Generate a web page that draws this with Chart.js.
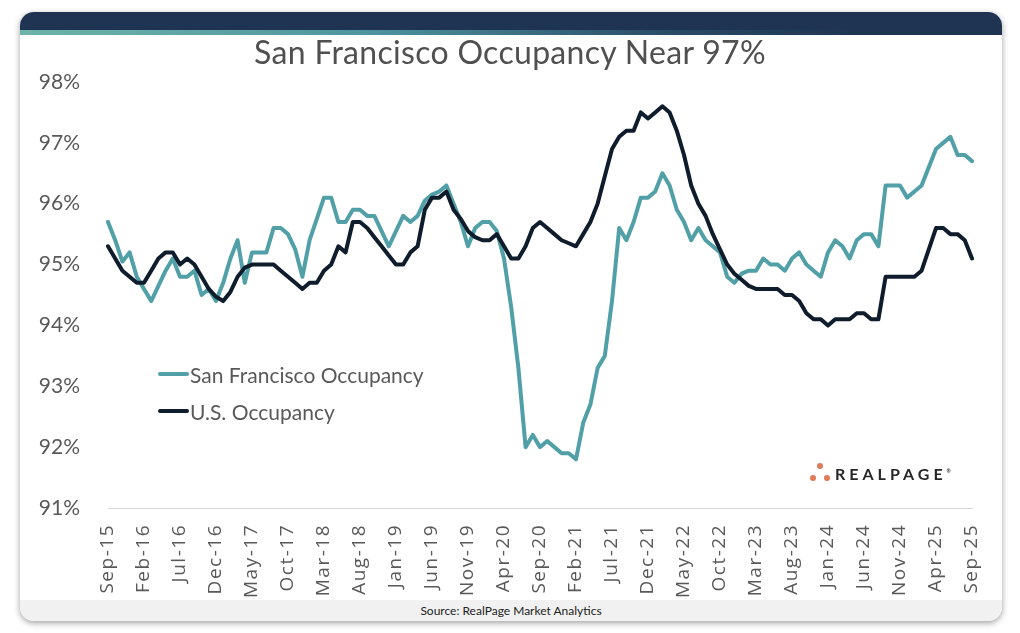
<!DOCTYPE html>
<html>
<head>
<meta charset="utf-8">
<script src="https://cdn.jsdelivr.net/npm/chart.js@4.4.1/dist/chart.umd.min.js"></script>
<style>
  html, body { margin: 0; padding: 0; }
  body { width: 1020px; height: 633px; background: #fff; position: relative; overflow: hidden; font-family: Lato, sans-serif; }
  .card { position: absolute; left: 20px; top: 12px; width: 982px; height: 609px; background: #fff;
          border-radius: 14px; box-shadow: 0 2px 6px rgba(0,0,0,0.38); overflow: hidden; }
  .band { height: 18px; background: #1e3452; }
  .stripe { height: 5px; background: linear-gradient(to right, #6db3a9 0%, #4f95a0 35%, #2a4d68 65%, #1e3452 85%); }
  .footer { position: absolute; left: 0; right: 0; bottom: 0; height: 21px; background: #f1f1f1;
            font: 12px Lato, sans-serif; color: #222; text-align: center; line-height: 21px; }
  .title { position: absolute; left: 0; width: 1020px; top: 32px; height: 42px; line-height: 42px;
           text-align: center; font: 32px Lato, sans-serif; color: #505050; z-index: 2; letter-spacing: 0.3px; }
  #chart { position: absolute; left: 0; top: 0; z-index: 1; }
  .legend { position: absolute; left: 158px; z-index: 2; display: flex; align-items: center; height: 24px;
            font: 21px Lato, sans-serif; color: #595959; }
  .legend span.ln { display: inline-block; width: 31px; height: 4px; border-radius: 2px; margin-right: 1px; }
  .logo { position: absolute; left: 809px; top: 461px; z-index: 2; height: 24px; }
  .logo .dot { position: absolute; width: 6px; height: 6px; border-radius: 50%; background: #e07b5a; }
  .logo .txt { position: absolute; left: 26px; top: 1px; font: bold 16px Lato, sans-serif; letter-spacing: 4px;
               color: #262626; white-space: nowrap; line-height: 24px; }
  .logo sup { font-size: 5px; letter-spacing: 0; vertical-align: top; position: relative; top: -3px; }
</style>
</head>
<body>
<div class="card">
  <div class="band"></div>
  <div class="stripe"></div>
  <div class="footer">Source: RealPage Market Analytics</div>
</div>
<div class="title">San Francisco Occupancy Near 97%</div>
<canvas id="chart" width="1020" height="600"></canvas>
<div class="legend" style="top:362px"><span class="ln" style="background:#519fa7"></span>San Francisco Occupancy</div>
<div class="legend" style="top:399px"><span class="ln" style="background:#0e1c2b"></span>U.S. Occupancy</div>
<div class="logo">
  <div class="dot" style="left:8px;top:2px"></div>
  <div class="dot" style="left:1px;top:14px"></div>
  <div class="dot" style="left:15px;top:14px"></div>
  <div class="txt">REALPAGE<sup>®</sup></div>
</div>
<script>
var months = [
  'Sep-15','Oct-15','Nov-15','Dec-15',
  'Jan-16','Feb-16','Mar-16','Apr-16','May-16','Jun-16','Jul-16','Aug-16','Sep-16','Oct-16','Nov-16','Dec-16',
  'Jan-17','Feb-17','Mar-17','Apr-17','May-17','Jun-17','Jul-17','Aug-17','Sep-17','Oct-17','Nov-17','Dec-17',
  'Jan-18','Feb-18','Mar-18','Apr-18','May-18','Jun-18','Jul-18','Aug-18','Sep-18','Oct-18','Nov-18','Dec-18',
  'Jan-19','Feb-19','Mar-19','Apr-19','May-19','Jun-19','Jul-19','Aug-19','Sep-19','Oct-19','Nov-19','Dec-19',
  'Jan-20','Feb-20','Mar-20','Apr-20','May-20','Jun-20','Jul-20','Aug-20','Sep-20','Oct-20','Nov-20','Dec-20',
  'Jan-21','Feb-21','Mar-21','Apr-21','May-21','Jun-21','Jul-21','Aug-21','Sep-21','Oct-21','Nov-21','Dec-21',
  'Jan-22','Feb-22','Mar-22','Apr-22','May-22','Jun-22','Jul-22','Aug-22','Sep-22','Oct-22','Nov-22','Dec-22',
  'Jan-23','Feb-23','Mar-23','Apr-23','May-23','Jun-23','Jul-23','Aug-23','Sep-23','Oct-23','Nov-23','Dec-23',
  'Jan-24','Feb-24','Mar-24','Apr-24','May-24','Jun-24','Jul-24','Aug-24','Sep-24','Oct-24','Nov-24','Dec-24',
  'Jan-25','Feb-25','Mar-25','Apr-25','May-25','Jun-25','Jul-25','Aug-25','Sep-25'
];

// San Francisco occupancy, %
var sfOcc = [
  95.7, 95.4, 95.05, 95.2,
  94.8, 94.6, 94.4, 94.65, 94.9, 95.1, 94.8, 94.8, 94.9, 94.5, 94.6, 94.4,
  94.7, 95.1, 95.4, 94.7, 95.2, 95.2, 95.2, 95.6, 95.6, 95.5, 95.25, 94.8,
  95.4, 95.75, 96.1, 96.1, 95.7, 95.7, 95.9, 95.9, 95.8, 95.8, 95.55, 95.3,
  95.55, 95.8, 95.7, 95.8, 96.05, 96.15, 96.2, 96.3, 96.0, 95.7, 95.3, 95.6,
  95.7, 95.7, 95.55, 95.1, 94.3, 93.3, 92.0, 92.2, 92.0, 92.1, 92.0, 91.9,
  91.9, 91.8, 92.4, 92.7, 93.3, 93.5, 94.4, 95.6, 95.4, 95.7, 96.1, 96.1,
  96.2, 96.5, 96.3, 95.9, 95.7, 95.4, 95.6, 95.4, 95.3, 95.2, 94.8, 94.7,
  94.85, 94.9, 94.9, 95.1, 95.0, 95.0, 94.9, 95.1, 95.2, 95.0, 94.9, 94.8,
  95.2, 95.4, 95.3, 95.1, 95.4, 95.5, 95.5, 95.3, 96.3, 96.3, 96.3, 96.1,
  96.2, 96.3, 96.6, 96.9, 97.0, 97.1, 96.8, 96.8, 96.7
];

// U.S. occupancy, %
var usOcc = [
  95.3, 95.1, 94.9, 94.8,
  94.7, 94.7, 94.9, 95.1, 95.2, 95.2, 95.0, 95.1, 95.0, 94.8, 94.6, 94.47,
  94.4, 94.55, 94.8, 94.95, 95.0, 95.0, 95.0, 95.0, 94.9, 94.8, 94.7, 94.6,
  94.7, 94.7, 94.9, 95.0, 95.3, 95.2, 95.7, 95.7, 95.6, 95.45, 95.3, 95.15,
  95.0, 95.0, 95.2, 95.3, 95.9, 96.1, 96.1, 96.2, 95.9, 95.75, 95.55, 95.45,
  95.4, 95.4, 95.5, 95.3, 95.1, 95.1, 95.3, 95.6, 95.7, 95.6, 95.5, 95.4,
  95.35, 95.3, 95.5, 95.7, 96.0, 96.45, 96.9, 97.1, 97.2, 97.2, 97.5, 97.4,
  97.5, 97.6, 97.5, 97.2, 96.8, 96.3, 96.0, 95.8, 95.5, 95.25, 95.0, 94.85,
  94.75, 94.65, 94.6, 94.6, 94.6, 94.6, 94.5, 94.5, 94.4, 94.2, 94.1, 94.1,
  94.0, 94.1, 94.1, 94.1, 94.2, 94.2, 94.1, 94.1, 94.8, 94.8, 94.8, 94.8,
  94.8, 94.9, 95.25, 95.6, 95.6, 95.5, 95.5, 95.4, 95.1
];

var yMin = 91, yMax = 98;
var tickEvery = 5;

// x labels in the original are slightly letter-spaced
var spacedLabels = {
  id: 'spacedLabels',
  beforeDraw: function(chart) {
    var xs = chart.scales.x;
    if (!xs || xs._spaced) return;
    var orig = xs.drawLabels;
    xs.drawLabels = function(area) {
      var c = this.ctx;
      c.save();
      c.letterSpacing = '1.5px';
      orig.call(this, area);
      c.restore();
    };
    xs._spaced = true;
  }
};

var ctx = document.getElementById('chart').getContext('2d');
var chart = new Chart(ctx, {
  type: 'line',
  data: {
    labels: months,
    datasets: [{
      label: 'San Francisco Occupancy',
      data: sfOcc,
      borderColor: '#519fa7',
      backgroundColor: 'transparent',
      borderWidth: 4,
      pointRadius: 0,
      tension: 0,
      borderJoinStyle: 'round',
      borderCapStyle: 'round',
      order: 1
    }, {
      label: 'U.S. Occupancy',
      data: usOcc,
      borderColor: '#0e1c2b',
      backgroundColor: 'transparent',
      borderWidth: 4,
      pointRadius: 0,
      tension: 0,
      borderJoinStyle: 'round',
      borderCapStyle: 'round',
      order: 0
    }]
  },
  options: {
    responsive: false,
    animation: false,
    layout: { padding: { top: 82, right: 48, left: 0, bottom: 0 } },
    plugins: {
      legend: { display: false },
      tooltip: { enabled: false }
    },
    scales: {
      x: {
        offset: false,
        grid: { display: false },
        border: { display: true, color: '#d9d9d9', width: 1 },
        ticks: {
          autoSkip: false,
          maxRotation: 90,
          minRotation: 90,
          padding: 8,
          color: '#595959',
          font: { family: 'Open Sans', size: 19 },
          callback: function(value, index) {
            return index % tickEvery === 0 ? this.getLabelForValue(value) : null;
          }
        },
        afterFit: function(s) { s.height = 92; }
      },
      y: {
        min: yMin,
        max: yMax,
        grid: { display: false },
        border: { display: false },
        ticks: {
          stepSize: 1,
          padding: 20,
          color: '#595959',
          font: { family: 'Lato', size: 21 },
          callback: function(v) { return v + '%'; }
        },
        afterFit: function(s) { s.width = 108; }
      }
    }
  },
  plugins: [spacedLabels]
});
</script>
</body>
</html>
